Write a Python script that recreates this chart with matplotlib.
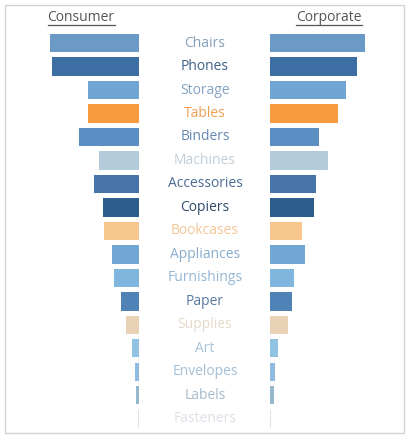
import matplotlib
matplotlib.use("Agg")
import matplotlib.pyplot as plt
from matplotlib.transforms import blended_transform_factory
from matplotlib.patches import Rectangle
from matplotlib.lines import Line2D

categories = ["Chairs", "Phones", "Storage", "Tables", "Binders", "Machines",
              "Accessories", "Copiers", "Bookcases", "Appliances", "Furnishings",
              "Paper", "Supplies", "Art", "Envelopes", "Labels", "Fasteners"]
consumer = [89, 87, 51, 51, 60, 40, 45, 36, 35, 27, 25, 18, 13, 7, 4, 3, 0.6]
corporate = [95, 87, 76, 68, 49, 58, 46, 44, 32, 35, 24, 22, 18, 8, 5, 4, 0.6]
segments = ["Consumer", "Corporate"]

bar_colors = ["#6b9ac7", "#3c6ea3", "#70a5d4", "#f99a3e", "#5b8fc4", "#b4cbdb",
              "#4674a9", "#2d5d8d", "#f6c68c", "#72a6d3", "#80b6de", "#4f83b8",
              "#e8d1b5", "#93c3e3", "#8fbce0", "#95b8cc", "#d8e2ea"]
text_colors = ["#86a0bb", "#3f6189", "#84a2c0", "#f09f52", "#6589b2", "#c0cfda",
               "#486b91", "#304b6b", "#f3c897", "#88abcd", "#95b6d4", "#5879a1",
               "#e6d9ca", "#a8c3da", "#a3bfd6", "#a5bccd", "#dbe1e6"]

W, H = 415, 440
fig = plt.figure(figsize=(W / 100, H / 100), dpi=100)
fig.patch.set_facecolor("white")

top_px, bot_px = 31.3, 430.5
ax_b = 1 - bot_px / H
ax_h = (bot_px - top_px) / H

axL = fig.add_axes([(139 - 100) / W, ax_b, 100 / W, ax_h])
axR = fig.add_axes([270 / W, ax_b, 100 / W, ax_h])

ypos = list(range(len(categories)))
axL.barh(ypos, consumer, height=0.78, color=bar_colors)
axR.barh(ypos, corporate, height=0.78, color=bar_colors)
axL.set_xlim(100, 0)
axR.set_xlim(0, 100)
for ax in (axL, axR):
    ax.set_ylim(len(categories) - 0.5, -0.5)
    ax.axis("off")

font = "Open Sans"
tr = blended_transform_factory(fig.transFigure, axL.transData)
for i, (c, col) in enumerate(zip(categories, text_colors)):
    fig.text(205 / W, i, c, transform=tr, ha="center", va="center",
             fontsize=10, color=col, family=font, weight="medium")

# Frame
fig.patches.append(Rectangle((4.5 / W, 1 - 432.5 / H), (404 - 4.5) / W, (432.5 - 5.3) / H,
                             transform=fig.transFigure, fill=False,
                             edgecolor="#d4d4d4", linewidth=1.0))

# Headers (underlined)
hdr = []
for name, xc in zip(segments, [81, 329]):
    t = fig.text(xc / W, 1 - 17.5 / H, name, ha="center", va="center",
                 fontsize=10, color="#555555", family=font, weight="medium")
    hdr.append(t)

fig.canvas.draw()
r = fig.canvas.get_renderer()
for t in hdr:
    bb = t.get_window_extent(renderer=r)
    yl = (bb.y0 - 0.2) / H
    fig.lines.append(Line2D([bb.x0 / W, bb.x1 / W], [yl, yl],
                            transform=fig.transFigure, color="#555555", linewidth=0.9))

fig.savefig("out.png", dpi=100)
